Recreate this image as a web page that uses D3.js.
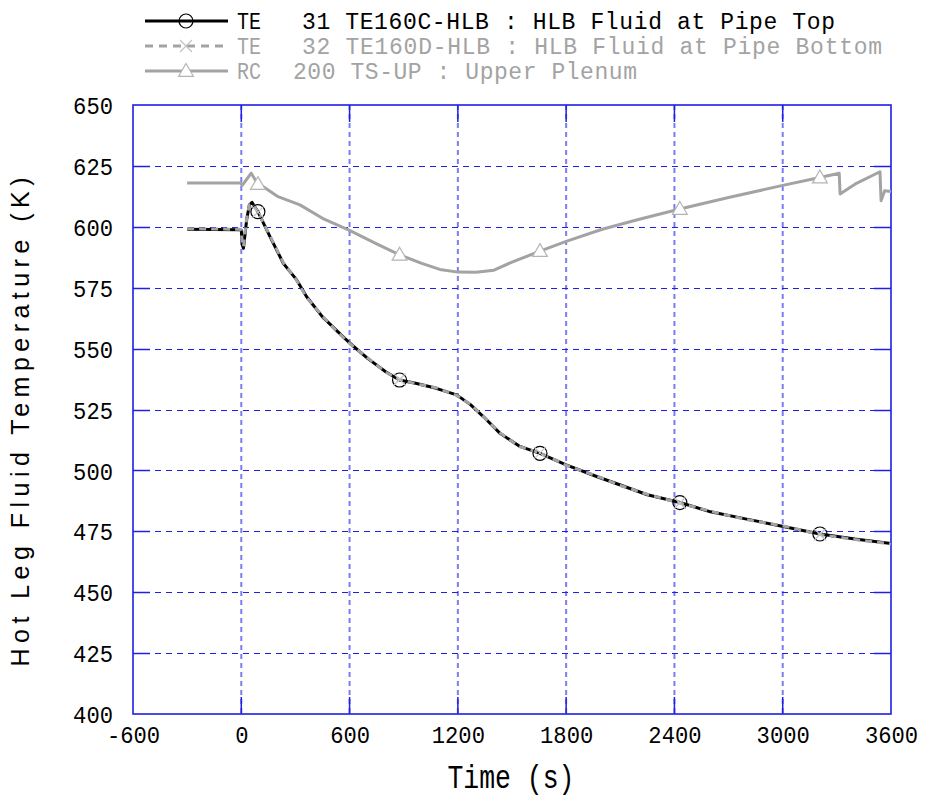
<!DOCTYPE html>
<html>
<head>
<meta charset="utf-8">
<script src="https://cdn.jsdelivr.net/npm/d3@7"></script>
<style>
  body { margin: 0; background: #fff; }
  text { white-space: pre; }
</style>
</head>
<body>
<div id="chart"></div>
<script>
// TE 31 TE160C-HLB : HLB Fluid at Pipe Top
const topTime = [-300, -10, 0, 6, 12, 30, 45, 60, 92, 159, 233, 307, 362, 450, 520, 602, 700, 800, 877, 972, 1080, 1193, 1270, 1341, 1434, 1540, 1655, 1800, 1969, 2100, 2250, 2430, 2600, 2800, 3003, 3206, 3400, 3600];
const topTemp = [599, 598.8, 598.5, 592.5, 591.2, 603, 609, 610, 606.2, 596, 585, 578.2, 571.3, 563, 558, 552.2, 546, 540.5, 537.1, 535.7, 533.7, 531, 527, 522.1, 515.2, 510, 507, 502.3, 497.5, 494, 490, 486.8, 483, 480, 477, 473.9, 471.8, 470];

// TE 32 TE160D-HLB : HLB Fluid at Pipe Bottom
const botTime = [-300, -10, 0, 6, 12, 30, 45, 60, 92, 159, 233, 307, 362, 450, 520, 602, 700, 800, 877, 972, 1080, 1193, 1270, 1341, 1434, 1540, 1655, 1800, 1969, 2100, 2250, 2430, 2600, 2800, 3003, 3206, 3400, 3600];
const botTemp = [599.2, 599, 598.8, 593, 591.8, 603.5, 609.2, 609.8, 606, 596.3, 585.3, 578, 571, 563.3, 557.8, 552, 546.2, 540.3, 537.3, 535.5, 533.9, 530.8, 527.2, 522, 515.4, 509.8, 507.2, 502.1, 497.7, 493.8, 490.2, 486.6, 483.2, 479.8, 477.2, 473.7, 471.6, 469.8];

// RC 200 TS-UP : Upper Plenum
const upTime = [-300, -5, 5, 25, 55, 92, 120, 200, 325, 450, 600, 750, 877, 1000, 1100, 1200, 1300, 1400, 1500, 1655, 1800, 2000, 2200, 2430, 2700, 3000, 3206, 3313, 3318, 3400, 3539, 3545, 3565, 3600];
const upTemp = [618, 618, 617, 619, 622, 617.5, 616.5, 612.5, 609, 603.5, 598.5, 593, 588.5, 585, 582.5, 581.4, 581.3, 582.2, 585.5, 590, 594, 599, 603, 607.3, 612, 617, 620.2, 622, 613.5, 617.5, 622.6, 610.7, 614.8, 614.5];

const markerTimes = [92, 877, 1655, 2430, 3206];

const xTicks = [-600, 0, 600, 1200, 1800, 2400, 3000, 3600];
const xTickLabels = ['-600', '0', '600', '1200', '1800', '2400', '3000', '3600'];
const yTicks = [400, 425, 450, 475, 500, 525, 550, 575, 600, 625, 650];
const yTickLabels = ['400', '425', '450', '475', '500', '525', '550', '575', '600', '625', '650'];

const width = 925;
const height = 798;
const plot = { left: 133, right: 891, top: 105, bottom: 714 };
const grey = '#a3a3a3';
const blue = '#1f1fe6';
const mono = '"Liberation Mono", "DejaVu Sans Mono", monospace';

const x = d3.scaleLinear().domain([-600, 3600]).range([plot.left, plot.right]);
const y = d3.scaleLinear().domain([400, 650]).range([plot.bottom, plot.top]);

const svg = d3.select('#chart').append('svg')
  .attr('width', width)
  .attr('height', height);

svg.append('defs').append('clipPath').attr('id', 'clip')
  .append('rect')
  .attr('x', plot.left).attr('y', plot.top)
  .attr('width', plot.right - plot.left).attr('height', plot.bottom - plot.top);

// grid
const grid = svg.append('g');
grid.selectAll('line.v')
  .data(xTicks.slice(1, -1))
  .enter().append('line')
  .attr('x1', d => x(d)).attr('x2', d => x(d))
  .attr('y1', plot.top).attr('y2', plot.bottom)
  .attr('stroke', '#7c7cf2').attr('stroke-width', 2)
  .attr('stroke-dasharray', '5,4');
grid.selectAll('line.h')
  .data(yTicks.slice(1, -1))
  .enter().append('line')
  .attr('x1', plot.left).attr('x2', plot.right)
  .attr('y1', d => Math.round(y(d)) + 0.5).attr('y2', d => Math.round(y(d)) + 0.5)
  .attr('stroke', blue).attr('stroke-width', 1.2)
  .attr('stroke-dasharray', '6,5');

// inner ticks
const tickLen = 17;
yTicks.slice(1, -1).forEach(v => {
  const yy = Math.round(y(v)) + 0.5;
  grid.append('line').attr('x1', plot.left).attr('x2', plot.left + tickLen)
    .attr('y1', yy).attr('y2', yy).attr('stroke', blue).attr('stroke-width', 1.5);
  grid.append('line').attr('x1', plot.right - tickLen).attr('x2', plot.right)
    .attr('y1', yy).attr('y2', yy).attr('stroke', blue).attr('stroke-width', 1.5);
});
xTicks.slice(1, -1).forEach(v => {
  grid.append('line').attr('x1', x(v)).attr('x2', x(v))
    .attr('y1', plot.bottom - tickLen).attr('y2', plot.bottom).attr('stroke', blue).attr('stroke-width', 1.5);
  grid.append('line').attr('x1', x(v)).attr('x2', x(v))
    .attr('y1', plot.top).attr('y2', plot.top + tickLen).attr('stroke', blue).attr('stroke-width', 1.5);
});

// frame
svg.append('rect')
  .attr('x', plot.left).attr('y', plot.top)
  .attr('width', plot.right - plot.left).attr('height', plot.bottom - plot.top)
  .attr('fill', 'none').attr('stroke', blue).attr('stroke-width', 1.6);

// axes labels (tall, narrow digits)
const digitW = 13.3;
const xAxis = d3.axisBottom(x).tickValues(xTicks)
  .tickFormat((d, i) => xTickLabels[i]).tickSize(0).tickPadding(0);
svg.append('g')
  .attr('transform', `translate(0,${plot.bottom + 29})`)
  .call(xAxis)
  .call(g => g.select('.domain').remove())
  .selectAll('text')
  .attr('dy', 0)
  .attr('fill', '#000')
  .attr('textLength', (d, i) => xTickLabels[i].length * digitW)
  .attr('lengthAdjust', 'spacingAndGlyphs')
  .style('font-family', mono).style('font-size', '24px');

const yAxis = d3.axisLeft(y).tickValues(yTicks)
  .tickFormat((d, i) => yTickLabels[i]).tickSize(0).tickPadding(0);
svg.append('g')
  .attr('transform', `translate(${plot.left - 20},0)`)
  .call(yAxis)
  .call(g => g.select('.domain').remove())
  .selectAll('text')
  .attr('dy', '0.36em')
  .attr('fill', '#000')
  .attr('textLength', (d, i) => yTickLabels[i].length * digitW)
  .attr('lengthAdjust', 'spacingAndGlyphs')
  .style('font-family', mono).style('font-size', '24px');

svg.append('text')
  .attr('x', 511).attr('y', 788)
  .attr('text-anchor', 'middle')
  .attr('textLength', 127).attr('lengthAdjust', 'spacingAndGlyphs')
  .style('font-family', mono).style('font-size', '34px')
  .text('Time (s)');

svg.append('text')
  .attr('transform', 'translate(29,422) rotate(-90)')
  .attr('text-anchor', 'middle')
  .attr('textLength', 489).attr('lengthAdjust', 'spacing')
  .style('font-family', '"Liberation Sans", Arial, sans-serif').style('font-size', '25px')
  .text('Hot Leg Fluid Temperature (K)');

// series
const series = [
  { t: topTime, v: topTemp, color: '#000', dash: null, marker: 'circle' },
  { t: botTime, v: botTemp, color: grey, dash: '7,5', marker: 'cross' },
  { t: upTime, v: upTemp, color: grey, dash: null, marker: 'triangle' }
];

const line = d3.line().x(d => x(d[0])).y(d => y(d[1]));
const plotG = svg.append('g').attr('clip-path', 'url(#clip)');

function drawMarker(g, kind, cx, cy) {
  if (kind === 'circle') {
    g.append('circle').attr('cx', cx).attr('cy', cy).attr('r', 7)
      .attr('fill', 'none').attr('stroke', '#000').attr('stroke-width', 1.2);
  } else if (kind === 'cross') {
    const s = 6;
    g.append('path')
      .attr('d', `M${cx - s},${cy - s}L${cx + s},${cy + s}M${cx - s},${cy + s}L${cx + s},${cy - s}`)
      .attr('stroke', '#c4c4c4').attr('stroke-width', 1.2).attr('fill', 'none');
  } else {
    const s = d3.symbol().type(d3.symbolTriangle).size(95);
    g.append('path').attr('d', s())
      .attr('transform', `translate(${cx},${cy + 1})`)
      .attr('fill', '#fff').attr('stroke', '#b4b4b4').attr('stroke-width', 1.2);
  }
}

series.forEach(s => {
  const pts = s.t.map((t, i) => [t, s.v[i]]);
  plotG.append('path')
    .datum(pts)
    .attr('d', line)
    .attr('fill', 'none')
    .attr('stroke', s.color)
    .attr('stroke-width', 3)
    .attr('stroke-linejoin', 'round')
    .attr('stroke-dasharray', s.dash);
});

series.forEach(s => {
  s.t.forEach((t, i) => {
    if (markerTimes.includes(t)) drawMarker(plotG, s.marker, x(t), y(s.v[i]));
  });
});

// legend
const legendRows = [
  { head: 'TE', rest: '31 TE160C-HLB : HLB Fluid at Pipe Top', restX: 302, restLen: 533, color: '#000', dash: null, marker: 'circle' },
  { head: 'TE', rest: '32 TE160D-HLB : HLB Fluid at Pipe Bottom', restX: 302, restLen: 580, color: grey, dash: '8,6', marker: 'cross' },
  { head: 'RC', rest: '200 TS-UP : Upper Plenum', restX: 293, restLen: 344, color: grey, dash: null, marker: 'triangle' }
];

const legend = svg.append('g');
legendRows.forEach((r, i) => {
  const cy = 21 + i * 25;
  legend.append('line')
    .attr('x1', 145).attr('x2', 228).attr('y1', cy).attr('y2', cy)
    .attr('stroke', r.color).attr('stroke-width', 3)
    .attr('stroke-dasharray', r.dash);
  drawMarker(legend, r.marker, 186, cy);
  legend.append('text')
    .attr('x', 237).attr('y', cy + 8)
    .attr('fill', r.color)
    .attr('textLength', 24).attr('lengthAdjust', 'spacingAndGlyphs')
    .style('font-family', mono).style('font-size', '24px')
    .text(r.head);
  legend.append('text')
    .attr('x', r.restX).attr('y', cy + 8)
    .attr('fill', r.color)
    .attr('textLength', r.restLen).attr('lengthAdjust', 'spacing')
    .style('font-family', mono).style('font-size', '23px')
    .text(r.rest);
});
</script>
</body>
</html>
